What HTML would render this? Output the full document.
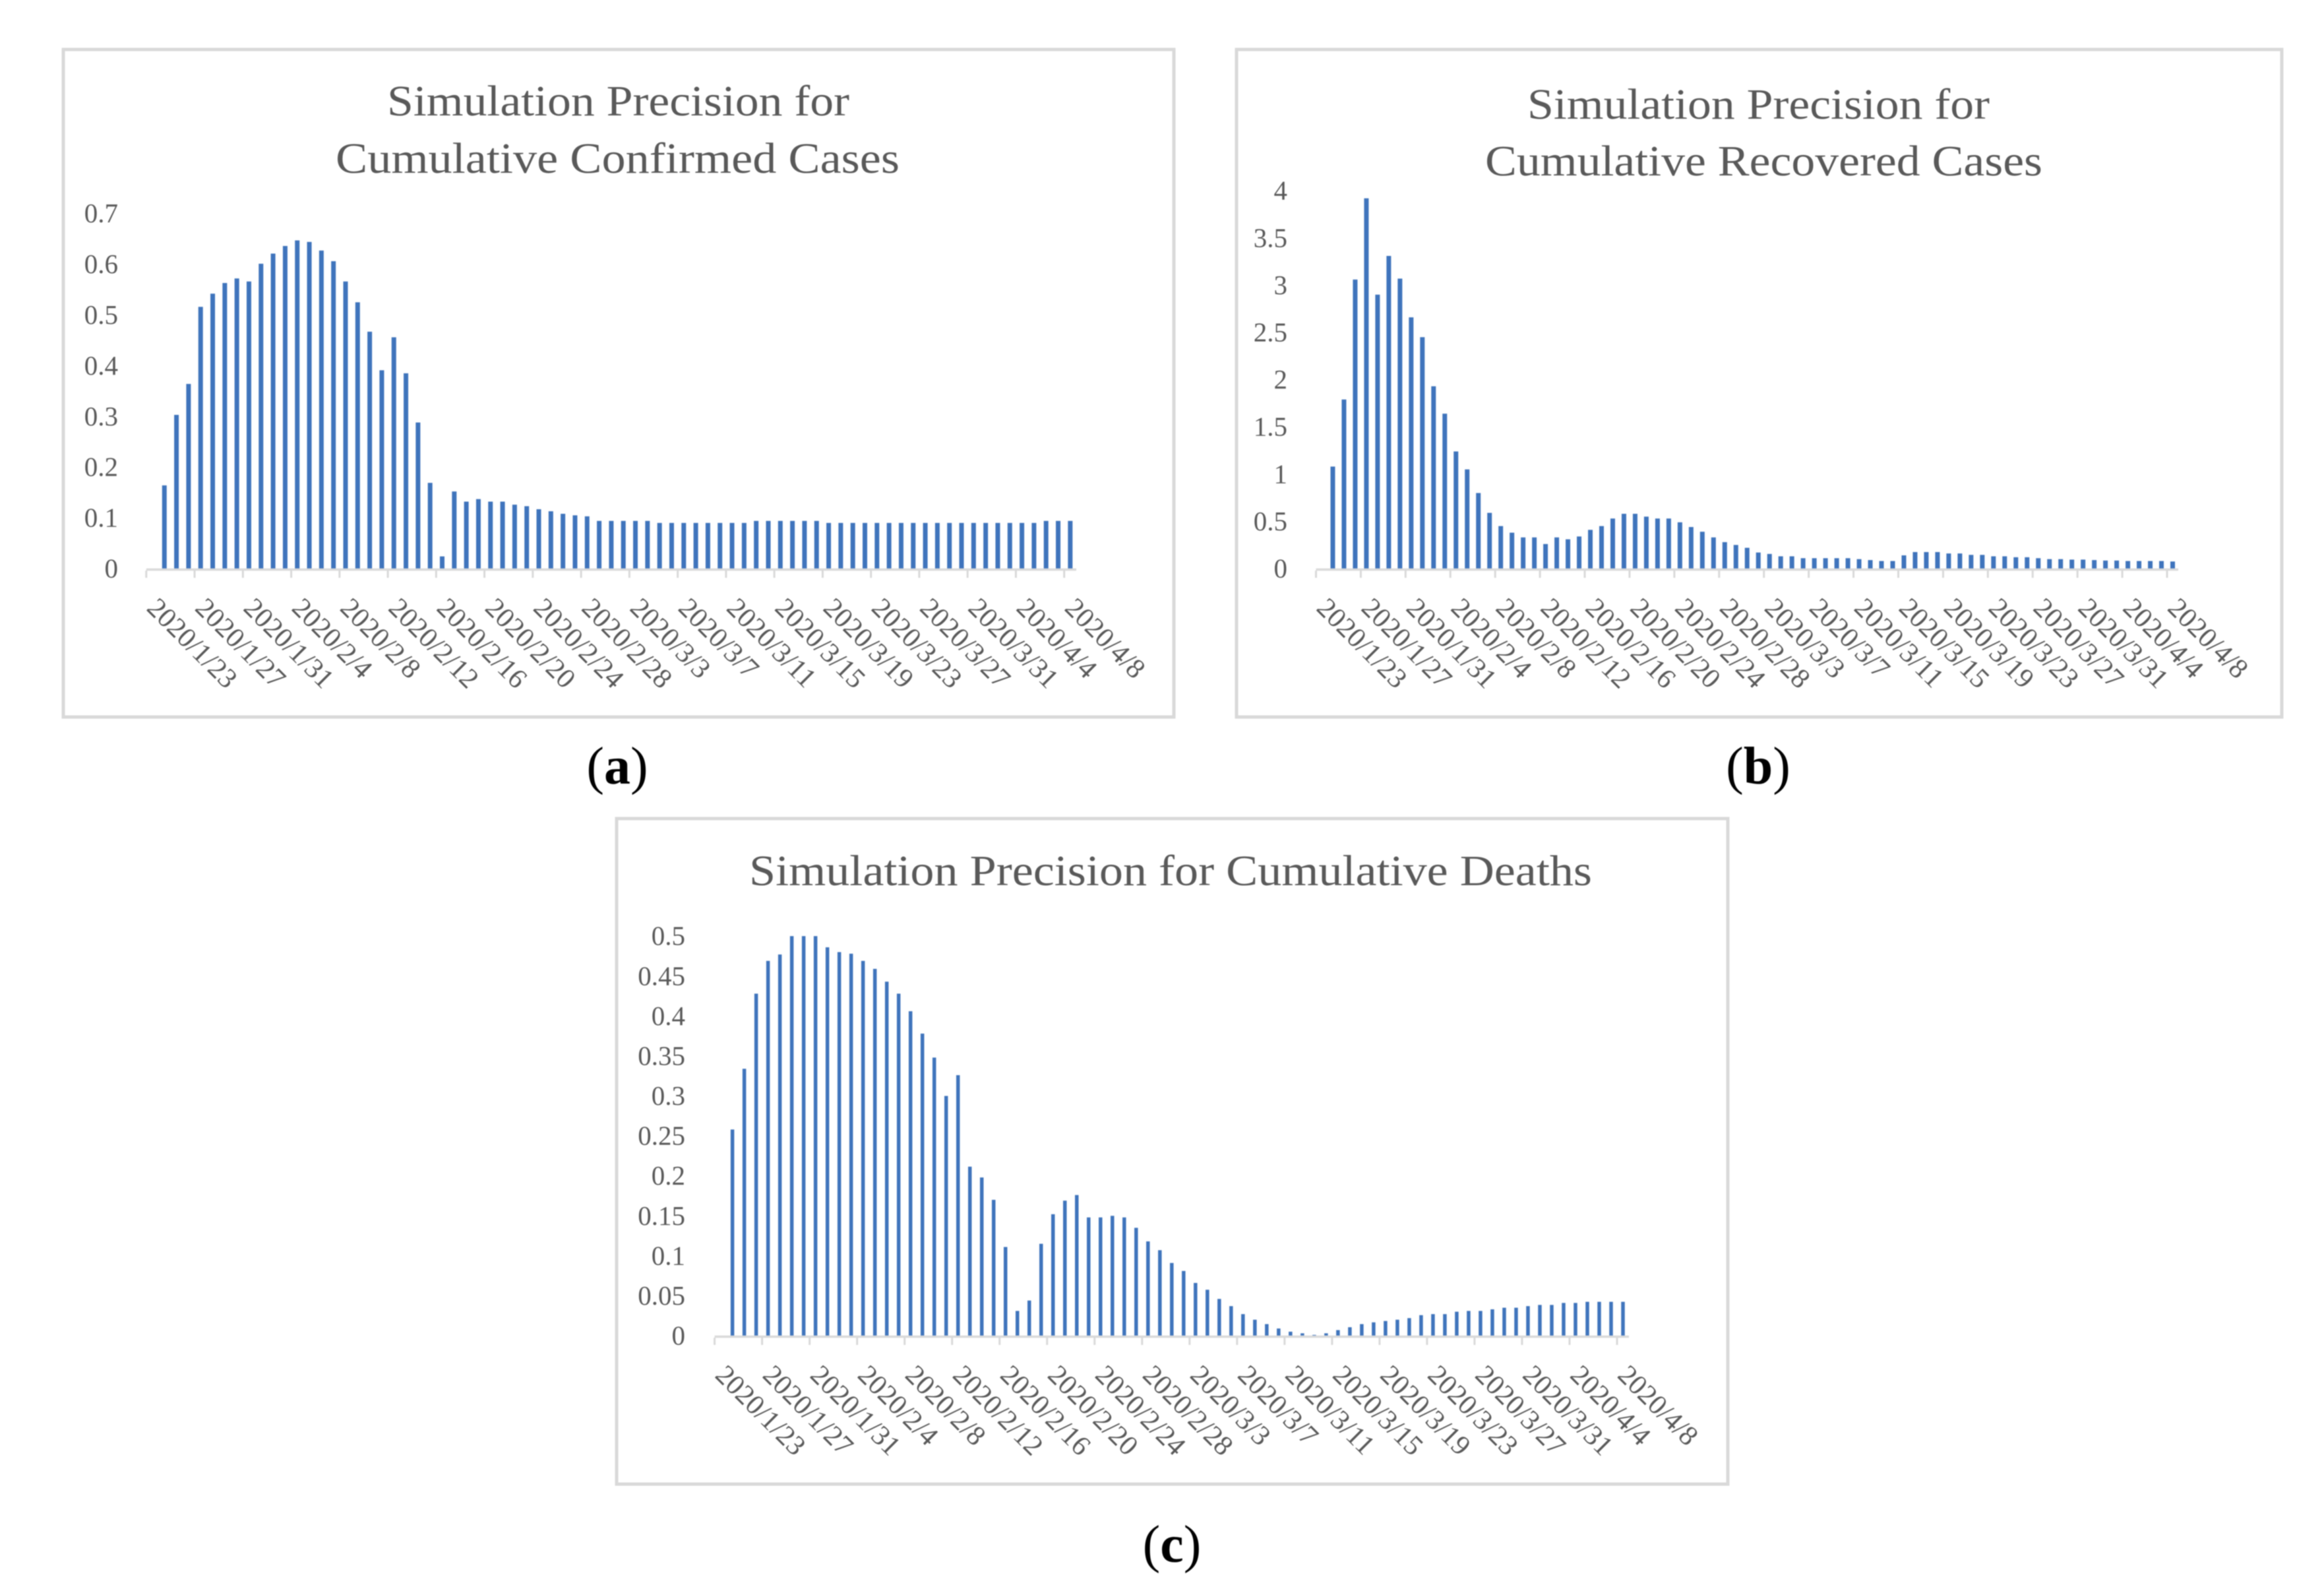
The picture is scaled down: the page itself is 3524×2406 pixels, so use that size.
<!DOCTYPE html>
<html lang="en">
<head>
<meta charset="utf-8">
<title>Simulation Precision Charts</title>
<style>
html,body{margin:0;padding:0;background:#fff;width:3524px;height:2406px;overflow:hidden}
svg{display:block;filter:blur(0.7px)}
text{font-family:"Liberation Serif","DejaVu Serif",serif;fill:#595959}
.title{font-size:66px}
.ytick{font-size:41px}
.xtick{font-size:42.5px}
.cap{font-size:80px;fill:#000;text-anchor:middle}
.cap .b{font-weight:bold}
.frame{fill:#fff;stroke:#d9d9d9;stroke-width:5}
</style>
</head>
<body>
<svg id="figure" xmlns="http://www.w3.org/2000/svg" width="3524" height="2406" viewBox="0 0 3524 2406">
  <g id="chart-a">
    <rect class="frame" x="96" y="75" width="1684" height="1012"/>
    <text class="title" x="587" y="175" textLength="701" lengthAdjust="spacingAndGlyphs">Simulation Precision for</text>
    <text class="title" x="509" y="262" textLength="855" lengthAdjust="spacingAndGlyphs">Cumulative Confirmed Cases</text>
  </g>
  <g id="chart-b">
    <rect class="frame" x="1875" y="75" width="1585" height="1012"/>
    <text class="title" x="2316" y="180" textLength="701" lengthAdjust="spacingAndGlyphs">Simulation Precision for</text>
    <text class="title" x="2252" y="266" textLength="845" lengthAdjust="spacingAndGlyphs">Cumulative Recovered Cases</text>
  </g>
  <g id="chart-c">
    <rect class="frame" x="935" y="1241" width="1685" height="1009"/>
    <text class="title" x="1136" y="1342" textLength="1278" lengthAdjust="spacingAndGlyphs">Simulation Precision for Cumulative Deaths</text>
  </g>
  <text class="cap" x="936" y="1188">(<tspan class="b">a</tspan>)</text>
  <text class="cap" x="2666" y="1188">(<tspan class="b">b</tspan>)</text>
  <text class="cap" x="1777" y="2368">(<tspan class="b">c</tspan>)</text>
</svg>
<script>
var dateLabels = ["2020/1/23","2020/1/27","2020/1/31","2020/2/4","2020/2/8","2020/2/12","2020/2/16","2020/2/20","2020/2/24","2020/2/28","2020/3/3","2020/3/7","2020/3/11","2020/3/15","2020/3/19","2020/3/23","2020/3/27","2020/3/31","2020/4/4","2020/4/8"];
var yTicksConfirmed = ["0","0.1","0.2","0.3","0.4","0.5","0.6","0.7"];
var yTicksRecovered = ["0","0.5","1","1.5","2","2.5","3","3.5","4"];
var yTicksDeaths = ["0","0.05","0.1","0.15","0.2","0.25","0.3","0.35","0.4","0.45","0.5"];
var confirmedValues = [null,
0.164,0.303,0.364,0.516,0.542,0.563,0.572,0.566,0.601,0.621,0.636,0.647,0.644,0.627,0.606,0.566,0.525,0.467,0.391,0.456,
0.385,0.288,0.169,0.024,0.152,0.132,0.137,0.132,0.132,0.126,0.123,0.117,0.113,0.108,0.105,0.103,0.094,0.094,0.094,0.094,
0.094,0.090,0.090,0.090,0.090,0.090,0.090,0.090,0.090,0.094,0.094,0.094,0.094,0.094,0.094,0.090,0.090,0.090,0.090,0.090,
0.090,0.090,0.090,0.090,0.090,0.090,0.090,0.090,0.090,0.090,0.090,0.090,0.090,0.094,0.094,0.094];
var recoveredValues = [null,
1.08,1.79,3.06,3.92,2.90,3.31,3.07,2.66,2.45,1.93,1.64,1.24,1.05,0.80,0.59,0.45,0.38,0.33,0.33,0.26,
0.33,0.31,0.34,0.41,0.45,0.53,0.58,0.58,0.55,0.53,0.53,0.49,0.44,0.39,0.33,0.28,0.25,0.22,0.17,0.155,
0.13,0.13,0.11,0.11,0.11,0.11,0.11,0.10,0.09,0.08,0.08,0.14,0.175,0.175,0.175,0.16,0.16,0.145,0.145,0.13,
0.13,0.12,0.12,0.11,0.10,0.10,0.095,0.095,0.09,0.085,0.085,0.08,0.08,0.08,0.08,0.075];
var deathValues = [null,
0.258,0.334,0.428,0.469,0.477,0.500,0.500,0.500,0.486,0.480,0.478,0.469,0.459,0.443,0.428,0.406,0.378,0.348,0.300,0.326,
0.2115,0.198,0.170,0.111,0.031,0.044,0.115,0.152,0.169,0.176,0.148,0.148,0.150,0.148,0.135,0.118,0.107,0.091,0.081,0.066,
0.0575,0.046,0.037,0.027,0.020,0.0145,0.009,0.005,0.003,0.001,0.003,0.007,0.0106,0.0145,0.0167,0.0184,0.020,0.022,0.0257,0.027,
0.027,0.030,0.031,0.031,0.033,0.035,0.035,0.037,0.0385,0.0385,0.041,0.041,0.0424,0.0424,0.0424,0.0424];

var NS = 'http://www.w3.org/2000/svg';

function make(parent, tag, attrs, text) {
  var el = document.createElementNS(NS, tag);
  for (var k in attrs) { el.setAttribute(k, attrs[k]); }
  if (text !== undefined) { el.textContent = text; }
  parent.appendChild(el);
  return el;
}

function drawChart(cfg) {
  var g = document.getElementById(cfg.id);
  var band = (cfg.axisEnd - cfg.x0) / cfg.values.length;
  var barsPerTick = 4;
  function xScale(i) { return cfg.x0 + band * i; }
  function yScale(v) { return cfg.y0 - v * cfg.unit; }

  cfg.yTicks.forEach(function (label) {
    var t = make(g, 'text', {'class': 'ytick', x: cfg.yLabelRight, y: yScale(parseFloat(label)) + 13.5, 'text-anchor': 'end'}, label);
    
    
  });

  cfg.values.forEach(function (v, i) {
    if (v === null) { return; }
    var top = yScale(v);
    var r = make(g, 'rect', {x: xScale(i + 0.5) - cfg.barWidth / 2, y: top, width: cfg.barWidth, height: cfg.y0 - top, fill: '#3f74bc'});
    
    
  });

  var axis = make(g, 'line', {x1: cfg.x0, x2: cfg.axisEnd, y1: cfg.y0 + 1.5, y2: cfg.y0 + 1.5, stroke: '#d9d9d9', 'stroke-width': 3.5});
  
  

  dateLabels.forEach(function (label, k) {
    var x = xScale(k * barsPerTick);
    var tick = make(g, 'line', {x1: x, x2: x, y1: cfg.y0 + 3, y2: cfg.y0 + 14, stroke: '#d9d9d9', 'stroke-width': 3});
    
    
    var lx = x - 1;
    var ly = cfg.y0 + 62;
    var t = make(g, 'text', {'class': 'xtick', x: lx, y: ly, transform: 'rotate(45 ' + lx + ' ' + ly + ')'}, label);
    
    
  });
}

drawChart({id: 'chart-a', values: confirmedValues, yTicks: yTicksConfirmed, x0: 221.8, axisEnd: 1632, y0: 862, unit: 769, yLabelRight: 179, barWidth: 7});
drawChart({id: 'chart-b', values: recoveredValues, yTicks: yTicksRecovered, x0: 1995.5, axisEnd: 3303, y0: 862, unit: 143.2, yLabelRight: 1952, barWidth: 7});
drawChart({id: 'chart-c', values: deathValues, yTicks: yTicksDeaths, x0: 1083.6, axisEnd: 2470, y0: 2025, unit: 1211.6, yLabelRight: 1039, barWidth: 5.5});
</script>
</body>
</html>
